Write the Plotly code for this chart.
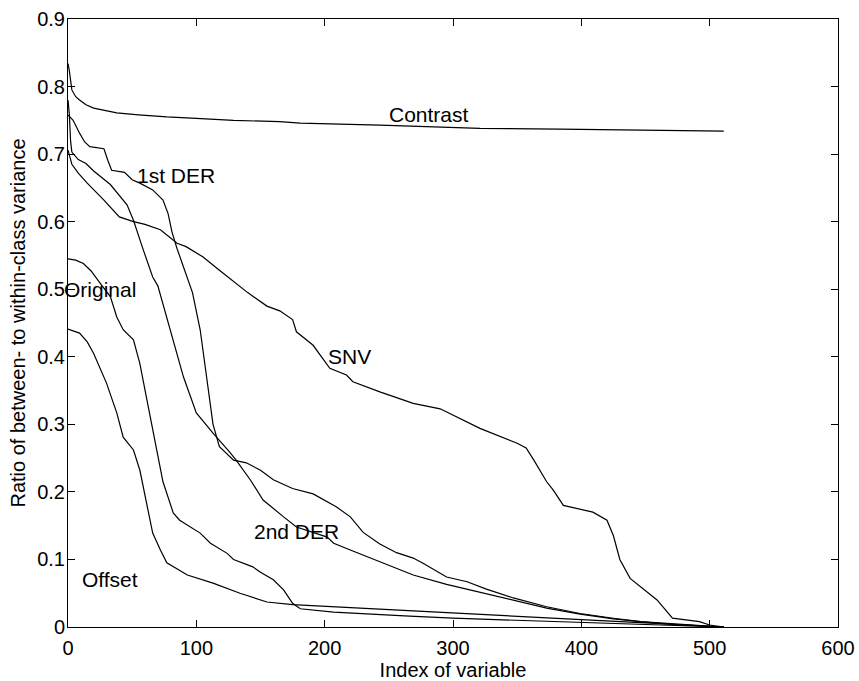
import plotly.graph_objects as go

# ---- data ----
contrast_x = [0, 1, 3, 6, 9, 14, 20, 30, 38, 55, 77, 100, 129, 165, 181, 243, 321, 383, 443, 511]
contrast_y = [0.834, 0.824, 0.795, 0.785, 0.780, 0.773, 0.768, 0.764, 0.761, 0.758, 0.755, 0.753,
              0.750, 0.748, 0.746, 0.743, 0.738, 0.737, 0.736, 0.734]

der1_x = [0, 4, 9, 13, 17, 28, 31, 34, 44, 50, 56, 66, 74, 78, 81, 85, 90, 97, 103, 108, 113, 118,
          129, 139, 150, 160, 175, 191, 209, 220, 230, 243, 256, 269, 277, 295, 311, 326, 347, 373,
          399, 425, 446, 470, 500, 511]
der1_y = [0.758, 0.750, 0.731, 0.718, 0.711, 0.708, 0.691, 0.676, 0.673, 0.662, 0.657, 0.647, 0.632,
          0.612, 0.585, 0.560, 0.533, 0.495, 0.440, 0.366, 0.300, 0.267, 0.247, 0.243, 0.232, 0.218,
          0.205, 0.197, 0.178, 0.163, 0.140, 0.123, 0.110, 0.102, 0.094, 0.074, 0.067, 0.056, 0.043,
          0.030, 0.020, 0.013, 0.008, 0.004, 0.001, 0.0]

der2_x = [0, 1, 2, 3, 8, 14, 20, 33, 46, 51, 58, 66, 70, 76, 87, 90, 100, 113, 126, 131, 142, 152,
          168, 178, 202, 207, 220, 243, 269, 295, 321, 352, 373, 399, 425, 446, 461, 490, 511]
der2_y = [0.780, 0.760, 0.720, 0.703, 0.692, 0.686, 0.675, 0.655, 0.625, 0.602, 0.562, 0.518, 0.505,
          0.465, 0.390, 0.370, 0.317, 0.287, 0.259, 0.247, 0.218, 0.188, 0.163, 0.148, 0.133, 0.124,
          0.114, 0.097, 0.077, 0.063, 0.051, 0.037, 0.028, 0.019, 0.012, 0.008, 0.006, 0.002, 0.0]

snv_x = [0, 3, 8, 15, 28, 40, 51, 60, 72, 85, 92, 105, 118, 129, 140, 155, 165, 175, 178, 191, 199,
         204, 217, 222, 243, 269, 290, 303, 321, 350, 357, 363, 373, 378, 386, 409, 420, 425, 430,
         438, 446, 459, 471, 492, 500, 511]
snv_y = [0.706, 0.685, 0.672, 0.657, 0.632, 0.607, 0.600, 0.596, 0.588, 0.568, 0.563, 0.548, 0.528,
         0.512, 0.495, 0.475, 0.468, 0.455, 0.437, 0.417, 0.395, 0.383, 0.373, 0.363, 0.348, 0.331,
         0.323, 0.311, 0.294, 0.272, 0.265, 0.247, 0.215, 0.203, 0.180, 0.170, 0.158, 0.135, 0.100,
         0.072, 0.060, 0.040, 0.013, 0.008, 0.003, 0.0]

orig_x = [0, 6, 12, 18, 25, 33, 38, 43, 51, 56, 61, 66, 69, 74, 82, 87, 103, 111, 124, 129, 144,
          150, 160, 168, 175, 181, 207, 243, 266, 300, 350, 400, 450, 511]
orig_y = [0.545, 0.543, 0.538, 0.527, 0.509, 0.489, 0.459, 0.440, 0.425, 0.390, 0.341, 0.292, 0.262,
          0.215, 0.169, 0.158, 0.139, 0.124, 0.109, 0.100, 0.089, 0.081, 0.070, 0.055, 0.035, 0.027,
          0.022, 0.018, 0.016, 0.013, 0.010, 0.006, 0.003, 0.0]

offset_x = [0, 9, 15, 20, 30, 38, 43, 51, 56, 61, 66, 72, 77, 93, 113, 134, 155, 175, 207, 243, 295,
            350, 400, 450, 500, 511]
offset_y = [0.441, 0.435, 0.422, 0.405, 0.361, 0.317, 0.281, 0.262, 0.232, 0.188, 0.139, 0.114,
            0.095, 0.077, 0.065, 0.050, 0.037, 0.033, 0.030, 0.026, 0.021, 0.016, 0.011, 0.006,
            0.001, 0.0]

label_text = ["Contrast", "1st DER", "Original", "SNV", "2nd DER", "Offset"]
label_x = [281, 84, 25, 219, 178, 33]
label_y = [0.758, 0.668, 0.500, 0.400, 0.141, 0.070]

FONT = "Liberation Sans, Arial, sans-serif"
FS = 20

fig = go.Figure()
for xs, ys, nm in [(contrast_x, contrast_y, "Contrast"), (der1_x, der1_y, "1st DER"),
                   (der2_x, der2_y, "2nd DER"), (snv_x, snv_y, "SNV"),
                   (orig_x, orig_y, "Original"), (offset_x, offset_y, "Offset")]:
    fig.add_trace(go.Scatter(x=xs, y=ys, mode="lines", name=nm,
                             line=dict(color="black", width=1.2)))

for t, x, y in zip(label_text, label_x, label_y):
    fig.add_annotation(x=x, y=y, xref="x", yref="y", text=t, showarrow=False,
                       font=dict(family=FONT, size=21, color="black"))

axis_common = dict(showline=True, linecolor="black", linewidth=1, mirror="ticks",
                   ticks="inside", ticklen=7, tickcolor="black", showgrid=False,
                   zeroline=False, automargin=False,
                   tickfont=dict(family=FONT, size=FS, color="black"))

fig.update_layout(
    width=859, height=681,
    margin=dict(l=68, r=21, t=19, b=54, autoexpand=False),
    paper_bgcolor="white", plot_bgcolor="white",
    showlegend=False,
    font=dict(family=FONT, size=FS, color="black"),
    xaxis=dict(range=[0, 600], dtick=100, tick0=0, ticklabelstandoff=3,
               title=dict(text="Index of variable", font=dict(family=FONT, size=FS), standoff=5),
               **axis_common),
    yaxis=dict(range=[0, 0.9], dtick=0.1, tick0=0, ticklabelstandoff=-2,
               title=dict(text="Ratio of between- to within-class variance",
                          font=dict(family=FONT, size=FS), standoff=6),
               **axis_common),
)

fig.write_html("out.html")
